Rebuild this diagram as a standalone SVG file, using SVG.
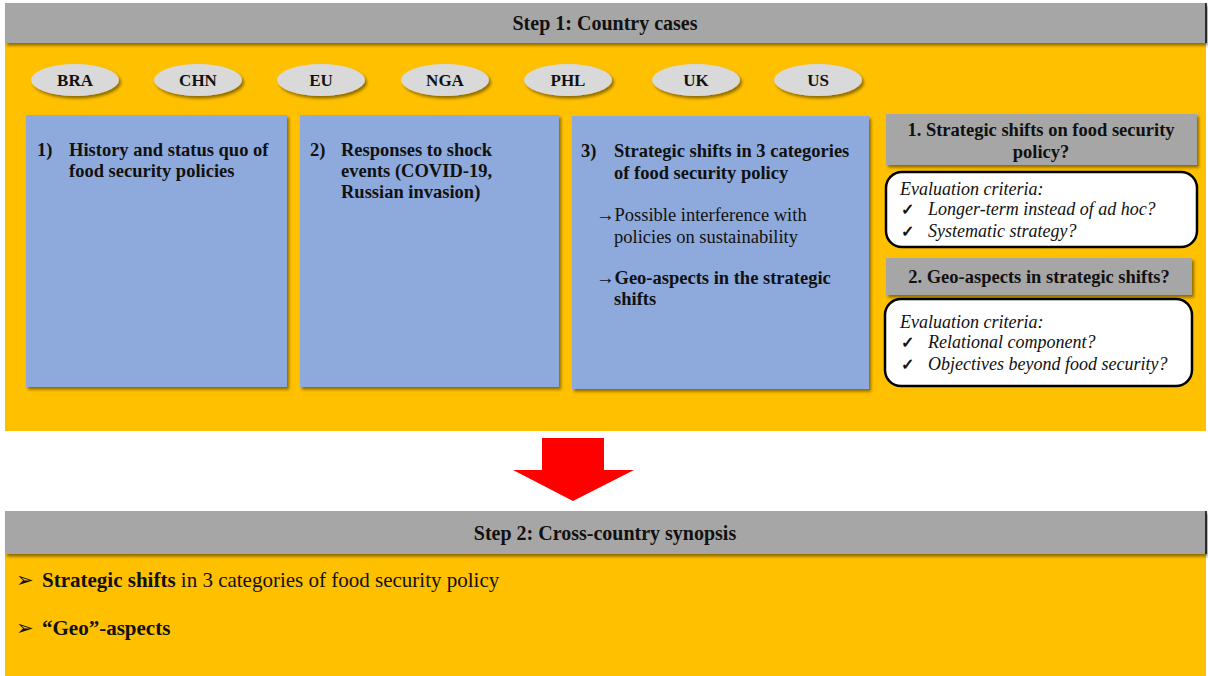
<svg xmlns="http://www.w3.org/2000/svg" width="1208" height="676" viewBox="0 0 1208 676">
<defs>
<filter id="sh" x="-10%" y="-10%" width="130%" height="130%">
<feDropShadow dx="2" dy="2.5" stdDeviation="1.5" flood-color="#000" flood-opacity="0.45"/>
</filter>
<style>
text{font-family:"Liberation Serif","DejaVu Serif",serif;fill:#111;}
.hdr{font-size:20px;font-weight:bold;text-anchor:middle;}
.ell{fill:#D9D9D9;filter:url(#sh);}
.ct{font-size:17px;font-weight:bold;text-anchor:middle;}
.blue{fill:#8EA9DB;filter:url(#sh);}
.bt{font-size:18.5px;font-weight:bold;}
.nt{font-size:18.5px;}
.gray{fill:#A6A6A6;filter:url(#sh);}
.wb{fill:#fff;stroke:#000;stroke-width:2.5;}
.it{font-size:18px;font-style:italic;}
.ck{font-size:16px;font-weight:bold;}
.bl{font-size:21px;}
</style>
</defs>
<rect x="0" y="0" width="1208" height="676" fill="#fff"/>
<g id="step1">
<rect x="5" y="43" width="1201" height="388" fill="#FFC000"/>
<rect x="5" y="3" width="1201" height="40" fill="#A6A6A6" filter="url(#sh)"/>
<line x1="1206" y1="3" x2="1206" y2="43" stroke="#000" stroke-width="1.5"/>
<text class="hdr" x="605" y="30">Step 1: Country cases</text>
</g>
<g id="countries">
<g id="bra"><ellipse class="ell" cx="75" cy="80" rx="44" ry="16"/><text class="ct" x="75" y="86">BRA</text></g>
<g id="chn"><ellipse class="ell" cx="198" cy="80" rx="44" ry="16"/><text class="ct" x="198" y="86">CHN</text></g>
<g id="eu"><ellipse class="ell" cx="321" cy="80" rx="44" ry="16"/><text class="ct" x="321" y="86">EU</text></g>
<g id="nga"><ellipse class="ell" cx="445" cy="80" rx="44" ry="16"/><text class="ct" x="445" y="86">NGA</text></g>
<g id="phl"><ellipse class="ell" cx="568" cy="80" rx="44" ry="16"/><text class="ct" x="568" y="86">PHL</text></g>
<g id="uk"><ellipse class="ell" cx="696" cy="80" rx="44" ry="16"/><text class="ct" x="696" y="86">UK</text></g>
<g id="us"><ellipse class="ell" cx="818" cy="80" rx="44" ry="16"/><text class="ct" x="818" y="86">US</text></g>
</g>
<g id="box1">
<rect class="blue" x="26" y="115" width="261" height="272"/>
<text class="bt" x="37" y="156">1)</text>
<text class="bt" x="69" y="156">History and status quo of</text>
<text class="bt" x="69" y="177">food security policies</text>
</g>
<g id="box2">
<rect class="blue" x="300" y="115" width="259" height="272"/>
<text class="bt" x="310" y="156">2)</text>
<text class="bt" x="341" y="156">Responses to shock</text>
<text class="bt" x="341" y="177">events (COVID-19,</text>
<text class="bt" x="341" y="198">Russian invasion)</text>
</g>
<g id="box3">
<rect class="blue" x="572" y="116" width="297" height="273"/>
<text class="bt" x="581" y="157">3)</text>
<text class="bt" x="614" y="157">Strategic shifts in 3 categories</text>
<text class="bt" x="614" y="179">of food security policy</text>
<text class="nt" x="596" y="221">→Possible interference with</text>
<text class="nt" x="614" y="243">policies on sustainability</text>
<text class="bt" x="596" y="284">→Geo-aspects in the strategic</text>
<text class="bt" x="614" y="305">shifts</text>
</g>
<g id="crit1">
<rect class="gray" x="886" y="114" width="311" height="51"/>
<text class="bt" x="1041" y="136" text-anchor="middle">1. Strategic shifts on food security</text>
<text class="bt" x="1041" y="158" text-anchor="middle">policy?</text>
<rect class="wb" x="886" y="172" width="311" height="75" rx="16"/>
<text class="it" x="900" y="195">Evaluation criteria:</text>
<text class="ck" x="901" y="215">✓</text>
<text class="it" x="928" y="215">Longer-term instead of ad hoc?</text>
<text class="ck" x="901" y="237">✓</text>
<text class="it" x="928" y="237">Systematic strategy?</text>
</g>
<g id="crit2">
<rect class="gray" x="886" y="258" width="306" height="37"/>
<text class="bt" x="1039" y="283" text-anchor="middle">2. Geo-aspects in strategic shifts?</text>
<rect class="wb" x="885" y="299" width="307" height="87" rx="16"/>
<text class="it" x="900" y="328">Evaluation criteria:</text>
<text class="ck" x="901" y="348">✓</text>
<text class="it" x="928" y="348">Relational component?</text>
<text class="ck" x="901" y="370">✓</text>
<text class="it" x="928" y="370">Objectives beyond food security?</text>
</g>
<g id="connectors">
<polygon points="542,438 604,438 604,470 634,470 573,501 513,470 542,470" fill="#FF0000"/>
</g>
<g id="step2">
<rect x="5" y="554" width="1201" height="122" fill="#FFC000"/>
<rect x="5" y="511" width="1201" height="43" fill="#A6A6A6" filter="url(#sh)"/>
<line x1="1206" y1="511" x2="1206" y2="554" stroke="#000" stroke-width="1.5"/>
<text class="hdr" x="605" y="540">Step 2: Cross-country synopsis</text>
<text class="bl" x="16" y="587">➢</text>
<text class="bl" x="42" y="587"><tspan font-weight="bold">Strategic shifts</tspan> in 3 categories of food security policy</text>
<text class="bl" x="16" y="635">➢</text>
<text class="bl" x="42" y="635" font-weight="bold">“Geo”-aspects</text>
</g>
</svg>
